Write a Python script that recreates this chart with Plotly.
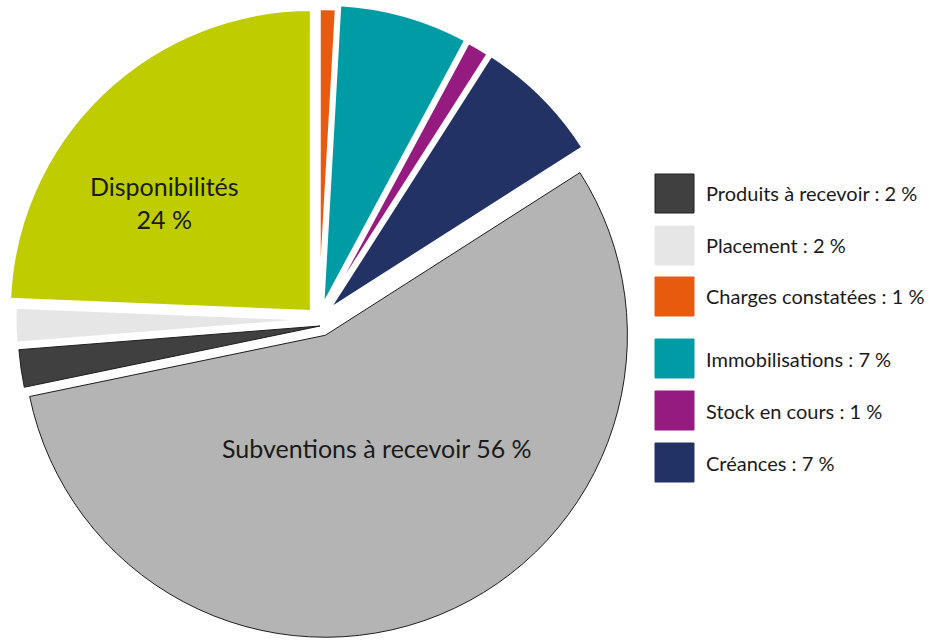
import plotly.graph_objects as go

# ---- data (clockwise from 12 o'clock) ----
labels = ["Charges constatées", "Immobilisations", "Stock en cours", "Créances",
          "Subventions à recevoir", "Produits à recevoir", "Placement", "Disponibilités"]
values = [0.9, 6.95, 1.2, 6.9, 55.8, 2.0, 1.9, 24.35]
shown_pct = [1, 7, 1, 7, 56, 2, 2, 24]
legend_order = ["Produits à recevoir", "Placement", "Charges constatées",
                "Immobilisations", "Stock en cours", "Créances"]

# ---- styles ----
colors = {
    "Charges constatées": "#E85B0F",
    "Immobilisations": "#009CA6",
    "Stock en cours": "#951B80",
    "Créances": "#233264",
    "Subventions à recevoir": "#B4B4B4",
    "Produits à recevoir": "#404040",
    "Placement": "#E6E6E6",
    "Disponibilités": "#BFCD00",
}
outlined = {"Subventions à recevoir", "Produits à recevoir"}
# explosion of each slice in pixels
pull_px = {"Charges constatées": 9, "Immobilisations": 13.8, "Stock en cours": 12.7,
           "Créances": 13.4, "Subventions à recevoir": 17.0, "Produits à recevoir": 0,
           "Placement": 2, "Disponibilités": 11.0}
second_group = {"Produits à recevoir"}   # drawn around a slightly different centre

W, H = 937, 641
R = 302
FONT = "Lato"
TXT = "#1a1a1a"


def dom(cx, cy, half):
    return dict(x=[max(0, (cx - half) / W), min(1, (cx + half) / W)],
                y=[max(0, 1 - (cy + half) / H), min(1, 1 - (cy - half) / H)])


def pie_trace(group_members, cx, cy):
    cols, lcols, lw, pulls = [], [], [], []
    for lab in labels:
        if lab in group_members:
            cols.append(colors[lab])
            if lab in outlined:
                lcols.append("#1e1e1e"); lw.append(1)
            else:
                lcols.append("#ffffff"); lw.append(3)
            pulls.append(pull_px[lab] / R)
        else:
            cols.append("rgba(0,0,0,0)"); lcols.append("rgba(0,0,0,0)"); lw.append(0)
            pulls.append(0)
    half = R * (1 + max(pulls))
    return go.Pie(labels=labels, values=values, sort=False, direction="clockwise",
                  rotation=0, pull=pulls, textinfo="none", hoverinfo="skip",
                  marker=dict(colors=cols, line=dict(color=lcols, width=lw)),
                  domain=dom(cx, cy, half), showlegend=False)


group_a = [l for l in labels if l not in second_group]
fig = go.Figure()
fig.add_trace(pie_trace(group_a, 319, 319.5))
fig.add_trace(pie_trace(second_group, 320, 326))

annotations = []
shapes = []
# labels inside the pie
pct = dict(zip(labels, shown_pct))
annotations.append(dict(x=164 / W, y=1 - 202 / H, xref="paper", yref="paper",
                        text=f"Disponibilités<br>{pct['Disponibilités']} %", showarrow=False,
                        xanchor="center", yanchor="middle",
                        font=dict(family=FONT, size=25, color=TXT)))
annotations.append(dict(x=377 / W, y=1 - 448 / H, xref="paper", yref="paper",
                        text=f"Subventions à recevoir {pct['Subventions à recevoir']} %",
                        showarrow=False, xanchor="center", yanchor="middle",
                        font=dict(family=FONT, size=25, color=TXT)))

# custom legend
box_top_px = [174, 226, 277, 339, 391, 443]
BOX = 39
BX = 655
for lab, top in zip(legend_order, box_top_px):
    shapes.append(dict(type="rect", xref="paper", yref="paper",
                       x0=BX / W, x1=(BX + BOX) / W, y0=1 - (top + BOX) / H, y1=1 - top / H,
                       fillcolor=colors[lab],
                       line=dict(color="#1e1e1e" if lab == "Produits à recevoir" else colors[lab],
                                 width=1)))
    annotations.append(dict(x=704 / W, y=1 - (top + BOX / 2) / H, xref="paper", yref="paper",
                            text=f"{lab} : {pct[lab]} %", showarrow=False,
                            xanchor="left", yanchor="middle",
                            font=dict(family=FONT, size=20, color=TXT)))

fig.update_layout(width=W, height=H, margin=dict(l=0, r=0, t=0, b=0),
                  paper_bgcolor="white", plot_bgcolor="white",
                  annotations=annotations, shapes=shapes, showlegend=False)

fig.write_html("out.html", config={"displayModeBar": False},
               post_script="document.body.style.margin='0';document.body.style.overflow='hidden';")
